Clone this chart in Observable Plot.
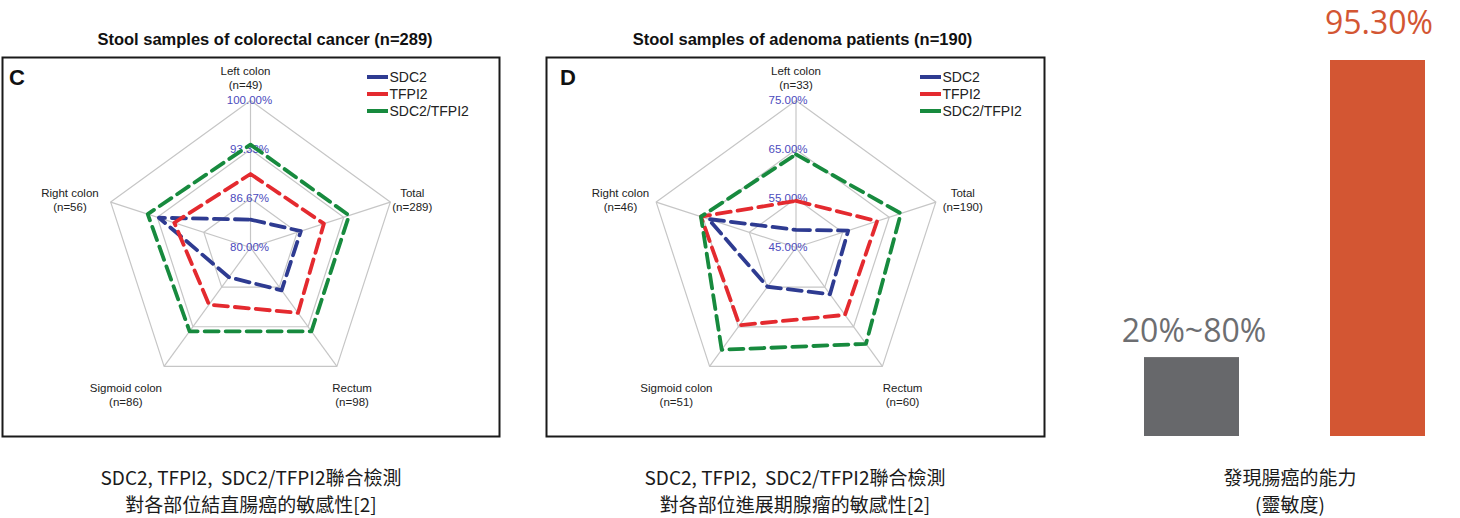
<!DOCTYPE html>
<html><head><meta charset="utf-8">
<script src="https://cdn.jsdelivr.net/npm/d3@7"></script>
<script src="https://cdn.jsdelivr.net/npm/@observablehq/plot@0.6"></script>
<style>
body{margin:0;background:#fff;}
#page{position:relative;width:1460px;height:518px;overflow:hidden;font-family:"Liberation Sans",Arial,sans-serif;background:#fff;}
.abs{position:absolute;}
.title{font-weight:bold;font-size:16.5px;color:#111;white-space:nowrap;transform:translateX(-50%);line-height:19px;}
.letter{font-weight:bold;font-size:22px;line-height:24px;color:#111;}
.legend{font-size:14px;color:#222;line-height:17px;}
.legend .row{display:flex;align-items:center;height:17px;white-space:nowrap;}
.legend .sw{width:21px;height:3.5px;margin-right:2px;}
.cap{font-family:"Noto Sans CJK TC",sans-serif;font-size:19px;line-height:27px;color:#1a1a1a;text-align:center;white-space:pre;transform:translateX(-50%);}
</style></head>
<body><div id="page"></div>
<script>
// ---------- data ----------
const axisNames = ["Left colon", "Total", "Rectum", "Sigmoid colon", "Right colon"];
const seriesNames = ["SDC2", "TFPI2", "SDC2/TFPI2"];
const seriesColors = ["#2e3b91", "#e42a2f", "#178a3e"];

const titleC = "Stool samples of colorectal cancer (n=289)";
const nC = [49, 289, 98, 86, 56];
const sdc2C  = [83.8, 87.2, 87.2, 85.0, 93.1];
const tfpi2C = [90.0, 90.5, 91.0, 89.6, 90.9];
const combC  = [94.0, 94.1, 94.1, 94.1, 94.7];
const ticksC = [80, 86.67, 93.33, 100];
const tickLabelsC = ["80.00%", "86.67%", "93.33%", "100.00%"];

const titleD = "Stool samples of adenoma patients (n=190)";
const nD = [33, 190, 60, 51, 46];
const sdc2D  = [48.6, 56.2, 56.8, 54.9, 63.8];
const tfpi2D = [54.5, 62.4, 62.0, 64.6, 65.4];
const combD  = [64.0, 67.5, 69.3, 70.8, 65.4];
const ticksD = [45, 55, 65, 75];
const tickLabelsD = ["45.00%", "55.00%", "65.00%", "75.00%"];

const barCats = ["一般檢測", "SDC2/TFPI2"];
const barValues = [20, 95.3];
const barLabels = ["20%~80%", "95.30%"];
const barColors = ["#67686b", "#d35633"];

const captionC = "SDC2, TFPI2,  SDC2/TFPI2聯合檢測\n對各部位結直腸癌的敏感性[2]";
const captionD = "SDC2, TFPI2,  SDC2/TFPI2聯合檢測\n對各部位進展期腺瘤的敏感性[2]";
const captionBar = "發現腸癌的能力\n(靈敏度)";

// ---------- layout ----------
const page = document.getElementById("page");
function add(html, cls, style) {
  const d = document.createElement("div");
  d.className = "abs " + cls;
  Object.assign(d.style, style);
  d.innerHTML = html;
  page.appendChild(d);
  return d;
}
const R = 147;
const measure = document.createElement("canvas").getContext("2d");
measure.font = "11.5px 'Liberation Sans'";

function radar({series, nList, ticks, tickLabels, cx, left, width, tickDx, labelShift}) {
  const lo = ticks[0], hi = ticks[ticks.length - 1];
  const rScale = d3.scaleLinear().domain([lo, hi]).range([0, 1]);
  const k = axisNames.length;
  const ang = i => i * 2 * Math.PI / k;
  const pts = [];
  series.forEach((vals, s) => vals.forEach((v, i) => {
    const r = rScale(v);
    pts.push({s: seriesNames[s], x: r * Math.sin(ang(i)), y: r * Math.cos(ang(i))});
  }));
  const rings = [];
  ticks.slice(1).forEach(t => axisNames.forEach((_, i) => {
    const r = rScale(t);
    rings.push({t, x: r * Math.sin(ang(i)), y: r * Math.cos(ang(i))});
  }));
  const spokes = axisNames.map((_, i) => ({x: Math.sin(ang(i)), y: Math.cos(ang(i))}));
  const labels = axisNames.map((name, i) => {
    const text = `${name}\n(n=${nList[i]})`;
    const w = Math.max(...text.split("\n").map(l => measure.measureText(l).width));
    const s = Math.sin(ang(i)), c = Math.cos(ang(i));
    const side = Math.abs(s) < 0.1 ? 0 : Math.sign(s);
    const px = s * R * 1.05 + side * w / 2 * (c < 0 ? 0.8 : 1) + labelShift;
    const py = c * R * 1.05 + (c > 0.5 ? 15.5 : c > 0 ? 0 : -22.5);
    return {text, x: px / R, y: py / R};
  });
  const H = 381, mL = 2, mR = 2, mT = 1, mB = 1, pcy = 191;
  const pcx = cx - left;
  const svg = Plot.plot({
    width, height: H, marginLeft: mL, marginRight: mR, marginTop: mT, marginBottom: mB,
    x: {domain: [(mL - pcx) / R, (width - mR - pcx) / R], axis: null},
    y: {domain: [(pcy - (H - mB)) / R, (pcy - mT) / R], axis: null},
    color: {domain: seriesNames, range: seriesColors},
    style: {background: "transparent", overflow: "visible", fontFamily: "'Liberation Sans', Arial, sans-serif"},
    marks: [
      Plot.frame({stroke: "#1a1a1a", strokeWidth: 2}),
      Plot.line(rings, {x: "x", y: "y", z: "t", curve: "linear-closed", stroke: "#c6c6c6", strokeWidth: 1.2}),
      Plot.link(spokes, {x1: 0, y1: 0, x2: "x", y2: "y", stroke: "#c6c6c6", strokeWidth: 1.2}),
      Plot.text(ticks, {x: 0, y: t => rScale(t), text: (t, i) => tickLabels[i], fill: "#4b4bbd", fontSize: 11.5, dx: tickDx}),
      Plot.line(pts, {x: "x", y: "y", z: "s", stroke: "s", curve: "linear-closed", strokeWidth: 3.8, strokeDasharray: "14,7"}),
      Plot.text(labels, {x: "x", y: "y", text: "text", fontSize: 11.5, fill: "#222", lineHeight: 1.22})
    ]
  });
  const holder = add("", "", {left: left + "px", top: "56px"});
  holder.appendChild(svg);
}

function legend(left) {
  const rows = seriesNames.map((n, i) =>
    `<div class="row"><span class="sw" style="background:${seriesColors[i]}"></span>${n}</div>`).join("");
  add(rows, "legend", {left: left + "px", top: "68.5px"});
}

// Panel C
add(titleC, "title", {left: "265px", top: "29.5px"});
radar({series: [sdc2C, tfpi2C, combC], nList: nC, ticks: ticksC, tickLabels: tickLabelsC,
  cx: 250, left: 0, width: 501, tickDx: -1, labelShift: -5});
add("C", "letter", {left: "9px", top: "66px"});
legend(366.5);

// Panel D
add(titleD, "title", {left: "802.5px", top: "29.5px"});
radar({series: [sdc2D, tfpi2D, combD], nList: nD, ticks: ticksD, tickLabels: tickLabelsD,
  cx: 795.5, left: 544, width: 502, tickDx: -8, labelShift: 0});
add("D", "letter", {left: "560px", top: "66px"});
legend(919.5);

// Bar chart
const barData = barCats.map((c, i) => ({c, v: barValues[i], label: barLabels[i]}));
const barSvg = Plot.plot({
  width: 360, height: 437, marginLeft: 44, marginRight: 34, marginTop: 60, marginBottom: 1,
  x: {domain: barCats, paddingInner: 0.488, paddingOuter: 0, axis: null},
  y: {domain: [0, 95.3], axis: null},
  color: {domain: barCats, range: barColors},
  style: {background: "transparent", overflow: "visible", fontFamily: "'Open Sans', sans-serif"},
  marks: [
    Plot.barY(barData, {x: "c", y: "v", fill: "c"}),
    Plot.text(barData.slice(0, 1), {x: "c", y: "v", text: "label", dy: -15.6, dx: 2, lineAnchor: "bottom", fontSize: 32, fill: "#6d6e71"}),
    Plot.text(barData.slice(1), {x: "c", y: "v", text: "label", dy: -26.7, dx: 1, lineAnchor: "bottom", fontSize: 32, fill: "#d35633"})
  ]
});
add("", "", {left: "1100px", top: "0px"}).appendChild(barSvg);

// Captions
add(captionC, "cap", {left: "251px", top: "463px"});
add(captionD, "cap", {left: "795px", top: "463px"});
add(captionBar, "cap", {left: "1290px", top: "463px"});
</script>
</body></html>
